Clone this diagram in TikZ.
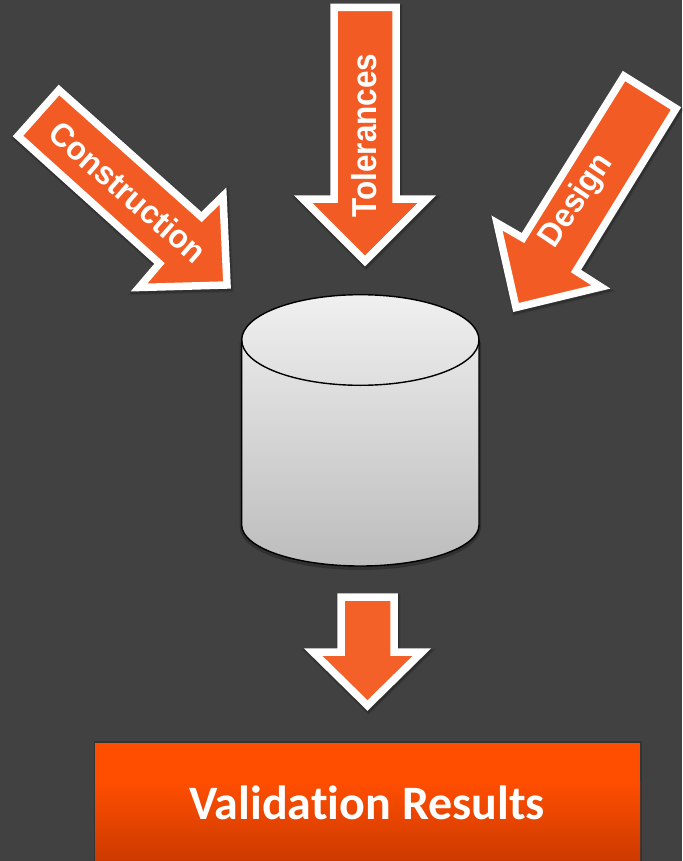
\documentclass[tikz,border=0pt]{standalone}
\usepackage{fontspec}
\setmainfont{Liberation Sans}
\newfontfamily\carlitofont[Ligatures=NoCommon]{Carlito}
\definecolor{bgdark}{HTML}{414141}
\definecolor{arroworange}{HTML}{F25C24}
\definecolor{arrowlight}{HTML}{F36028}
\definecolor{boxtop}{HTML}{FF4E00}
\definecolor{boxbottom}{HTML}{CC3A00}
\tikzset{
  x=1pt,y=-1pt,
  softshadow/.style={
    preaction={draw=black,draw opacity=.10,line width=11pt,miter limit=10,transform canvas={shift={(1pt,-2pt)}}},
    preaction={draw=black,draw opacity=.18,line width=8.5pt,miter limit=10,transform canvas={shift={(1pt,-2pt)}}}},
  bigarrow/.style={softshadow,draw=white,fill=arroworange,line width=7.5pt,line join=miter,miter limit=10},
  arrowtext/.style={text=white,font=\bfseries\fontsize{31.5}{31.5}\selectfont,inner sep=0pt,anchor=center},
  cylline/.style={draw=black,line width=1.4pt}
}
\begin{document}
\begin{tikzpicture}
\useasboundingbox (0,0) rectangle (682,861);
\fill[bgdark] (0,0) rectangle (682,861);
% arrows
\path[bigarrow] (334,7.5) -- (396,7.5) -- (396,199) -- (427,199) -- (365,261) -- (303,199) -- (334,199) -- cycle;
\path[bigarrow] (59,90) -- (18,136) -- (159.5,263.5) -- (139,287.5) -- (227,285) -- (223,196) -- (201.5,217) -- cycle;
\path[bigarrow] (624,76) -- (676,108.5) -- (576,271) -- (601,287) -- (516,307.5) -- (497,223) -- (523,238) -- cycle;
\path[bigarrow,fill=arrowlight] (341,597) -- (394,597) -- (394,652) -- (422,652) -- (367.5,705.5) -- (313,652) -- (341,652) -- cycle;
% labels
\node[arrowtext,rotate=90] (tol) at (364,135.5) {\scalebox{1}[1.1]{Tolerances}};
\node[arrowtext,rotate=-41] (con) at (128,192) {\scalebox{1}[1.05]{Construction}};
\node[arrowtext,rotate=56] (des) at (577,201) {\scalebox{1}[1.05]{Design}};
% cylinder
\path[draw=black,draw opacity=.25,line width=4pt,transform canvas={shift={(0pt,-2pt)}}]
  (241.7,340) -- (241.7,525) arc[start angle=180,end angle=360,x radius=118.65,y radius=-41]
  -- (479,340);
\shade[top color=black!6,bottom color=black!26]
  (241.7,340) arc[start angle=180,end angle=0,x radius=118.65,y radius=-45.3]
  -- (479,525) arc[start angle=0,end angle=-180,x radius=118.65,y radius=-41] -- cycle;
\path[cylline] (241.7,340) arc[start angle=180,end angle=0,x radius=118.65,y radius=-45.3]
  -- (479,525) arc[start angle=0,end angle=-180,x radius=118.65,y radius=-41] -- cycle;
\path[cylline] (241.7,340) arc[start angle=180,end angle=360,x radius=118.65,y radius=-45.3];
% result box
\begin{scope}
\clip (0,0) rectangle (682,861);
\draw[draw=black,draw opacity=.2,line width=3pt] (95,742.7) rectangle (640,880);
\fill[boxtop] (95,742.7) rectangle (640,782);
\shade[top color=boxtop,bottom color=boxbottom] (95,781.5) rectangle (640,861);
\end{scope}
\node[text=white,inner sep=0pt,anchor=base,font=\carlitofont\bfseries\fontsize{48}{48}\selectfont] (res) at (367,819) {Validation Results};
\end{tikzpicture}
\end{document}
